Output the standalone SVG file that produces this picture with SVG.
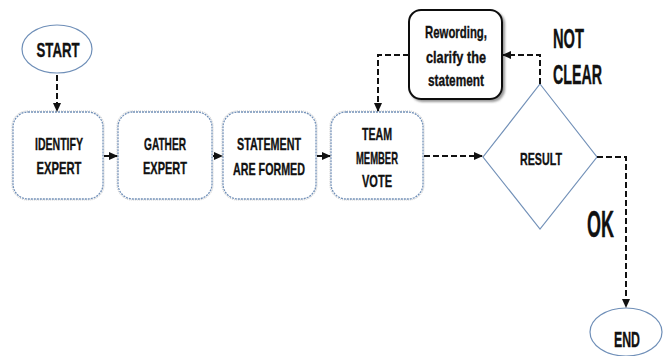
<svg xmlns="http://www.w3.org/2000/svg" width="663" height="356" viewBox="0 0 663 356">
  <defs>
    <marker id="arrow" markerUnits="userSpaceOnUse" markerWidth="9" markerHeight="8" refX="8" refY="4" orient="auto">
      <path d="M0,0 L9,4 L0,8 z" fill="#111"/>
    </marker>
    <filter id="shadow" x="-10%" y="-10%" width="130%" height="130%">
      <feDropShadow dx="2" dy="2" stdDeviation="1" flood-color="#555" flood-opacity="0.6"/>
    </filter>
  </defs>
  <style>
    .terminal { fill: #fff; stroke: #6f8fb8; stroke-width: 1.2; }
    .step { fill: #fff; stroke: #7391b8; stroke-width: 1.3; stroke-dasharray: 2 1; }
    .step-halo { fill: none; stroke: #c9c9c9; stroke-width: 1; stroke-dasharray: 1 1; }
    .decision { fill: #fff; stroke: #7391b8; stroke-width: 1.2; }
    .note { fill: #fff; stroke: #111; stroke-width: 2; }
    .label { font-family: "Liberation Sans", Arial, sans-serif; font-weight: bold; fill: #111; stroke: #111; stroke-width: 0.35; text-anchor: middle; }
    .big { font-family: "Liberation Sans", Arial, sans-serif; font-weight: bold; fill: #111; stroke: #111; stroke-width: 0.4; }
    .link { fill: none; stroke: #111; stroke-width: 2; stroke-dasharray: 6 3; }
  </style>

  <!-- start / end terminals -->
  <g id="start">
    <ellipse class="terminal" cx="57" cy="49" rx="35" ry="24"/>
    <text class="label" x="58" y="57" font-size="21" textLength="43" lengthAdjust="spacingAndGlyphs">START</text>
  </g>

  <!-- process steps -->
  <g id="identify-expert">
    <rect class="step-halo" x="12" y="111" width="92" height="89" rx="15"/>
    <rect class="step" x="13" y="112" width="90" height="87" rx="15"/>
    <text class="label" x="59" y="150" font-size="17" textLength="48" lengthAdjust="spacingAndGlyphs">IDENTIFY</text>
    <text class="label" x="59" y="174" font-size="17" textLength="45" lengthAdjust="spacingAndGlyphs">EXPERT</text>
  </g>
  <g id="gather-expert">
    <rect class="step-halo" x="117" y="111" width="96" height="89" rx="15"/>
    <rect class="step" x="118" y="112" width="94" height="87" rx="15"/>
    <text class="label" x="165" y="150" font-size="17" textLength="42" lengthAdjust="spacingAndGlyphs">GATHER</text>
    <text class="label" x="165" y="174" font-size="17" textLength="44" lengthAdjust="spacingAndGlyphs">EXPERT</text>
  </g>
  <g id="statement-formed">
    <rect class="step-halo" x="222" y="111" width="95" height="89" rx="15"/>
    <rect class="step" x="223" y="112" width="93" height="87" rx="15"/>
    <text class="label" x="269" y="150" font-size="17" textLength="64" lengthAdjust="spacingAndGlyphs">STATEMENT</text>
    <text class="label" x="269" y="175" font-size="17" textLength="72" lengthAdjust="spacingAndGlyphs">ARE FORMED</text>
  </g>
  <g id="team-vote">
    <rect class="step-halo" x="330" y="111" width="94" height="89" rx="15"/>
    <rect class="step" x="331" y="112" width="92" height="87" rx="15"/>
    <text class="label" x="377" y="140" font-size="17" textLength="30" lengthAdjust="spacingAndGlyphs">TEAM</text>
    <text class="label" x="377" y="164" font-size="17" textLength="42" lengthAdjust="spacingAndGlyphs">MEMBER</text>
    <text class="label" x="377" y="187" font-size="17" textLength="30" lengthAdjust="spacingAndGlyphs">VOTE</text>
  </g>

  <!-- rewording step -->
  <g id="rewording">
    <rect class="note" x="409" y="10" width="93" height="89" rx="12" filter="url(#shadow)"/>
    <text class="label" x="456" y="38" font-size="17" textLength="62" lengthAdjust="spacingAndGlyphs">Rewording,</text>
    <text class="label" x="456" y="63" font-size="17" textLength="60" lengthAdjust="spacingAndGlyphs">clarify the</text>
    <text class="label" x="456" y="86" font-size="17" textLength="56" lengthAdjust="spacingAndGlyphs">statement</text>
  </g>

  <!-- decision -->
  <g id="result">
    <path class="decision" d="M540,84 L597,157 L540,229 L483,157 z"/>
    <text class="label" x="541" y="165" font-size="17" textLength="42" lengthAdjust="spacingAndGlyphs">RESULT</text>
  </g>

  <g id="end">
    <ellipse class="terminal" cx="626" cy="332" rx="36" ry="24"/>
    <text class="label" x="627" y="347" font-size="22" textLength="26" lengthAdjust="spacingAndGlyphs">END</text>
  </g>

  <!-- connectors -->
  <g id="connectors">
    <path class="link" d="M57,75 V111" marker-end="url(#arrow)"/>
    <path class="link" d="M104,156 H117" stroke-dasharray="5 2" marker-end="url(#arrow)"/>
    <path class="link" d="M213,156 H222" stroke-dasharray="4 2" marker-end="url(#arrow)"/>
    <path class="link" d="M317,156 H330" stroke-dasharray="5 2" marker-end="url(#arrow)"/>
    <path class="link" d="M424,156 H482" marker-end="url(#arrow)"/>
    <path class="link" d="M540,84 V55 H503" marker-end="url(#arrow)"/>
    <path class="link" d="M409,55 H378 V111" marker-end="url(#arrow)"/>
    <path class="link" d="M597,157 H626 V307" marker-end="url(#arrow)"/>
  </g>

  <!-- branch labels -->
  <g id="branch-labels">
    <text class="big" x="553" y="48" font-size="27" textLength="31" lengthAdjust="spacingAndGlyphs">NOT</text>
    <text class="big" x="553" y="84" font-size="27" textLength="49" lengthAdjust="spacingAndGlyphs">CLEAR</text>
    <text class="big" x="587" y="237" font-size="37" textLength="27" lengthAdjust="spacingAndGlyphs">OK</text>
  </g>
</svg>
